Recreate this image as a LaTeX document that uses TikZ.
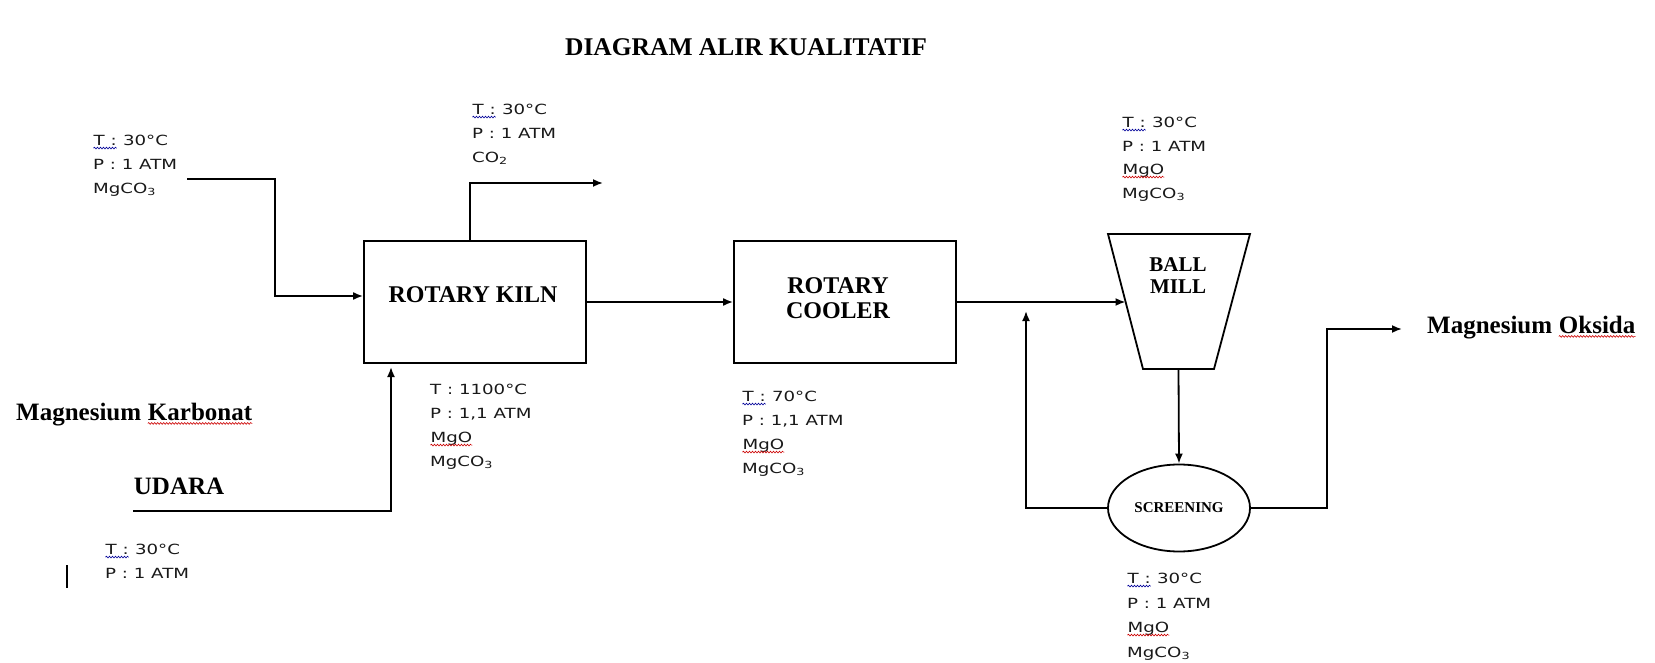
\documentclass[tikz,border=0pt]{standalone}
\usepackage{fontspec}
\setmainfont{Liberation Serif}
\newfontfamily\infofont[FakeStretch=1.3]{DejaVu Sans}
\usetikzlibrary{arrows.meta,shapes.geometric,calc,decorations.pathmorphing}

% spell-check wave under a word
\newcommand\wavy[2]{\tikz[baseline=(w.base)]{\node[inner sep=0pt] (w) {#2};
  \draw[#1,line width=0.6pt,decorate,decoration={snake,amplitude=0.9pt,segment length=3pt}]
    ([yshift=-2.5pt]w.base west) -- ([yshift=-2.5pt]w.base east);}}
\newcommand\bluewave[1]{\wavy{blue!60!black}{#1}}
\newcommand\redwave[1]{\wavy{red!80!black}{#1}}

\begin{document}
\begin{tikzpicture}[x=1pt,y=-1pt,line width=1.8pt,>={Latex[length=10pt,width=8pt]},
  box/.style={draw,rectangle,minimum width=222pt,minimum height=122pt,inner sep=0pt},
  boxtext/.style={inner sep=0pt,align=center,font=\bfseries\fontsize{24}{25}\selectfont},
  info/.style={anchor=north west,inner sep=0pt,align=left,text=black!90,
    font=\infofont\fontsize{14}{24}\selectfont},
  lbl/.style={inner sep=0pt,font=\bfseries\fontsize{25}{30}\selectfont}]
\useasboundingbox (0,0) rectangle (1655,663);

\node[lbl,font=\bfseries\fontsize{25.5}{30}\selectfont] (title) at (746,47) {DIAGRAM ALIR KUALITATIF};

% units
\node[box] (kiln) at (475,302) {};
\node[boxtext] (kilntext) at (473,295) {ROTARY KILN};
\node[box] (cooler) at (845,302) {};
\node[boxtext] (coolertext) at (838,298) {ROTARY\\COOLER};

\coordinate (mtl) at (1108,234);
\coordinate (mtr) at (1250,234);
\coordinate (mbr) at (1214,369);
\coordinate (mbl) at (1143,369);
\draw (mtl) -- (mtr) -- (mbr) -- (mbl) -- cycle;
\node[align=center,font=\bfseries\fontsize{21}{22}\selectfont] (mill) at (1178,276) {BALL\\MILL};
\coordinate (millin) at ($(mtl)!0.5!(mbl)$);
\coordinate (millout) at ($(mbl)!0.5!(mbr)$);

\node[draw,ellipse,minimum width=142pt,minimum height=87pt,inner sep=0pt,
  font=\bfseries\fontsize{15}{15}\selectfont] (screen) at (1179,508) {SCREENING};

% streams
\coordinate (feed) at (187,179);
\coordinate (co2out) at (603,183);
\coordinate (air) at (133,511);
\coordinate (airin) at (391,367);
\coordinate (rec) at (1026,311);
\coordinate (prodbend) at (1327,329);
\coordinate (prodend) at (1402,329);

\draw[->] (feed) -| ([xshift=-88pt,yshift=6pt]kiln.west) -- ([yshift=6pt]kiln.west);
\draw[->] ([xshift=-5pt]kiln.north) |- (co2out);
\draw[->] (air) -| (airin);
\draw[->] (kiln) -- (cooler);
\draw[->] (cooler.east) -- (cooler.east -| millin);
\draw[->] (millout) -- (screen.north);
\draw[->] (screen.west) -| (rec);
\draw[->] (screen.east) -| (prodbend) -- (prodend);

% labels
\node[lbl,anchor=west] (mgk) at (16,415) {Magnesium \redwave{Karbonat}};
\node[lbl,anchor=west] (udara) at (133,486) {UDARA};
\node[lbl,anchor=west] (mgo) at (1427,328) {Magnesium \redwave{Oksida}};

\node[info] (feedinfo) at (93,135) {\bluewave{T :} 30°C\\P : 1 ATM\\MgCO\textsubscript{3}};
\node[info] (co2info) at (472,104) {\bluewave{T :} 30°C\\P : 1 ATM\\CO\textsubscript{2}};
\node[info] (kilninfo) at (430,384) {T : 1100°C\\P : 1,1 ATM\\\redwave{MgO}\\MgCO\textsubscript{3}};
\node[info] (coolinfo) at (742,391) {\bluewave{T :} 70°C\\P : 1,1 ATM\\\redwave{MgO}\\MgCO\textsubscript{3}};
\node[info,font=\infofont\fontsize{14}{23.5}\selectfont] (millinfo) at (1122,117) {\bluewave{T :} 30°C\\P : 1 ATM\\\redwave{MgO}\\MgCO\textsubscript{3}};
\node[info,font=\infofont\fontsize{14}{24.5}\selectfont] (screeninfo) at (1127,573) {\bluewave{T :} 30°C\\P : 1 ATM\\\redwave{MgO}\\MgCO\textsubscript{3}};
\node[info] (airinfo) at (105,544) {\bluewave{T :} 30°C\\P : 1 ATM};

\draw[line width=1.2pt] (67,565) -- (67,588);
\end{tikzpicture}
\end{document}
